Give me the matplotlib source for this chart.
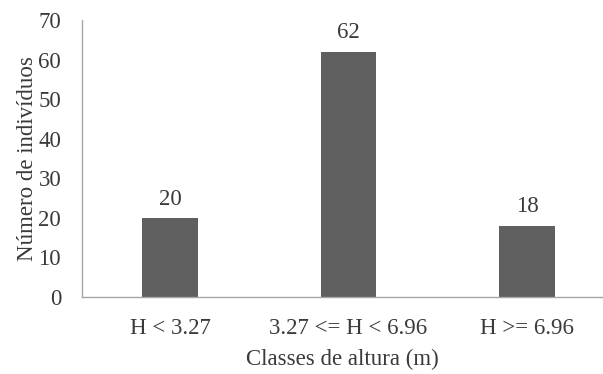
import matplotlib
matplotlib.use("Agg")
import matplotlib.pyplot as plt

# =========
# 1. Data
# =========
classes = ["H < 3.27", "3.27 <= H < 6.96", "H >= 6.96"]
counts = [20, 62, 18]

plt.rcParams["font.family"] = ["Liberation Serif", "DejaVu Serif"]
text_color = "#3a3a3a"
fs = 16.5

# ============
# 2. Plotting
# ============
fig = plt.figure(figsize=(6.03, 3.74), dpi=100)
ax = fig.add_axes([82 / 603, 77 / 374, 1 - 82 / 603, 277 / 374])

x = range(len(classes))
bars = ax.bar(x, counts, width=0.31, color="#5f5f5f")

for bar, val in zip(bars, counts):
    ax.annotate(f"{val}", (bar.get_x() + bar.get_width() / 2, bar.get_height()),
                xytext=(0, 6), textcoords="offset points",
                ha="center", va="bottom", fontsize=fs, color=text_color)

# ==============
# 3. Formatting
# ==============
ax.set_xlim(-0.493, 2.426)
ax.set_ylim(0, 70)
ax.set_yticks(range(0, 71, 10))
ax.set_xticks(list(x))
ax.set_xticklabels(classes)
ax.tick_params(axis="both", length=0, labelsize=fs, colors=text_color)
ax.tick_params(axis="y", pad=15)
ax.tick_params(axis="x", pad=15)

for side in ["top", "right"]:
    ax.spines[side].set_visible(False)
for side in ["left", "bottom"]:
    ax.spines[side].set_color("#a6a6a6")
    ax.spines[side].set_linewidth(1.0)

ax.set_xlabel("Classes de altura (m)", fontsize=fs, color=text_color, labelpad=7)
ax.set_ylabel("Número de indivíduos", fontsize=fs, color=text_color, labelpad=0)

fig.savefig("out.png", dpi=100)
